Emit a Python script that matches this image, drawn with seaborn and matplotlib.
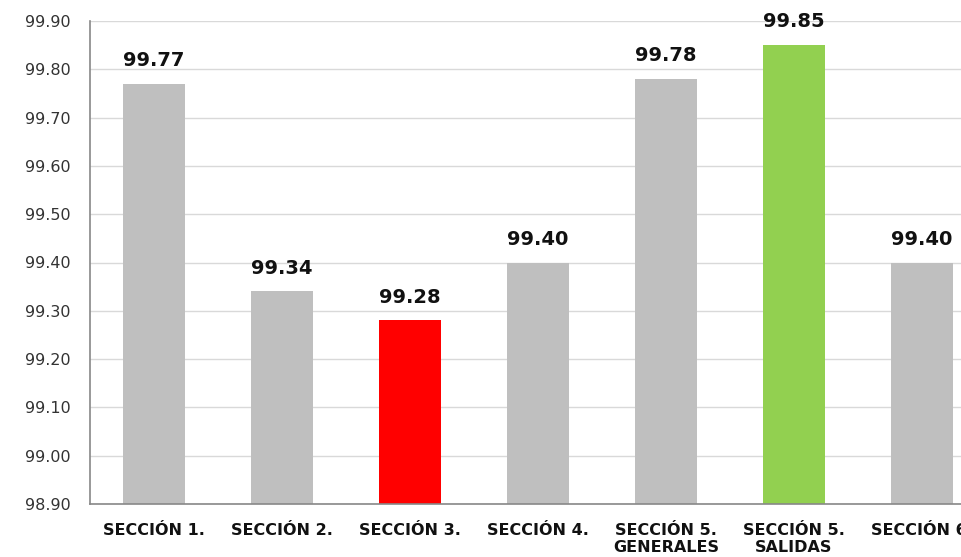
import numpy as np
import pandas as pd
import matplotlib
matplotlib.use('Agg')
import matplotlib.pyplot as plt
import seaborn as sns
from matplotlib.ticker import FixedLocator

# datos
SECCIONES = ['SECCIÓN 1.', 'SECCIÓN 2.', 'SECCIÓN 3.', 'SECCIÓN 4.',
             'SECCIÓN 5.\nGENERALES', 'SECCIÓN 5.\nSALIDAS', 'SECCIÓN 6.']
VALORES = [99.77, 99.34, 99.28, 99.40, 99.78, 99.85, 99.40]
COLORES = ['#BFBFBF', '#BFBFBF', '#FF0000', '#BFBFBF', '#BFBFBF', '#92D050', '#BFBFBF']
Y_TICKS = [98.90, 99.00, 99.10, 99.20, 99.30, 99.40, 99.50, 99.60, 99.70, 99.80, 99.90]

sns.set_style('white')
plt.rcParams['font.family'] = ['DejaVu Sans']

df = pd.DataFrame({'Seccion': SECCIONES, 'Valor': VALORES})

fig = plt.figure(figsize=(9.61, 5.57), dpi=100)
# el gráfico original está recortado por la derecha
ax = fig.add_axes([90 / 961, 53 / 557, 896 / 961, 483 / 557])

sns.barplot(data=df, x='Seccion', y='Valor', hue='Seccion', palette=COLORES,
            width=0.49, legend=False, ax=ax, saturation=1, linewidth=0)

ax.set_ylim(98.90, 99.90)
ax.set_xlim(-0.5, len(SECCIONES) - 0.5)
ax.set_yticks(Y_TICKS)
ax.set_yticklabels([f'{v:.2f}' for v in Y_TICKS], fontsize=11.5, color='#333333')
ax.yaxis.grid(True, color='#D9D9D9', linewidth=1)
ax.set_axisbelow(True)

ax.set_xticks(range(len(SECCIONES)))
ax.set_xticklabels(SECCIONES, fontsize=11.5, fontweight='bold', color='#111111',
                   linespacing=1.15)
ax.tick_params(axis='x', which='major', length=0, pad=14)
ax.xaxis.set_minor_locator(FixedLocator(np.arange(-0.5, len(SECCIONES), 1)))
ax.tick_params(axis='x', which='minor', length=9, width=1, color='#888888', direction='out')
ax.tick_params(axis='y', length=5, width=1, color='#888888', direction='out', pad=9)

ax.set_xlabel('')
ax.set_ylabel('')
for s in ['top', 'right']:
    ax.spines[s].set_visible(False)
for s in ['left', 'bottom']:
    ax.spines[s].set_color('#888888')
    ax.spines[s].set_linewidth(1.2)

for i, v in enumerate(VALORES):
    ax.annotate(f'{v:.2f}', (i, v), xytext=(0, 10), textcoords='offset points',
                ha='center', va='bottom', fontsize=14, fontweight='bold', color='#111111')

fig.savefig('out.png', dpi=100)
